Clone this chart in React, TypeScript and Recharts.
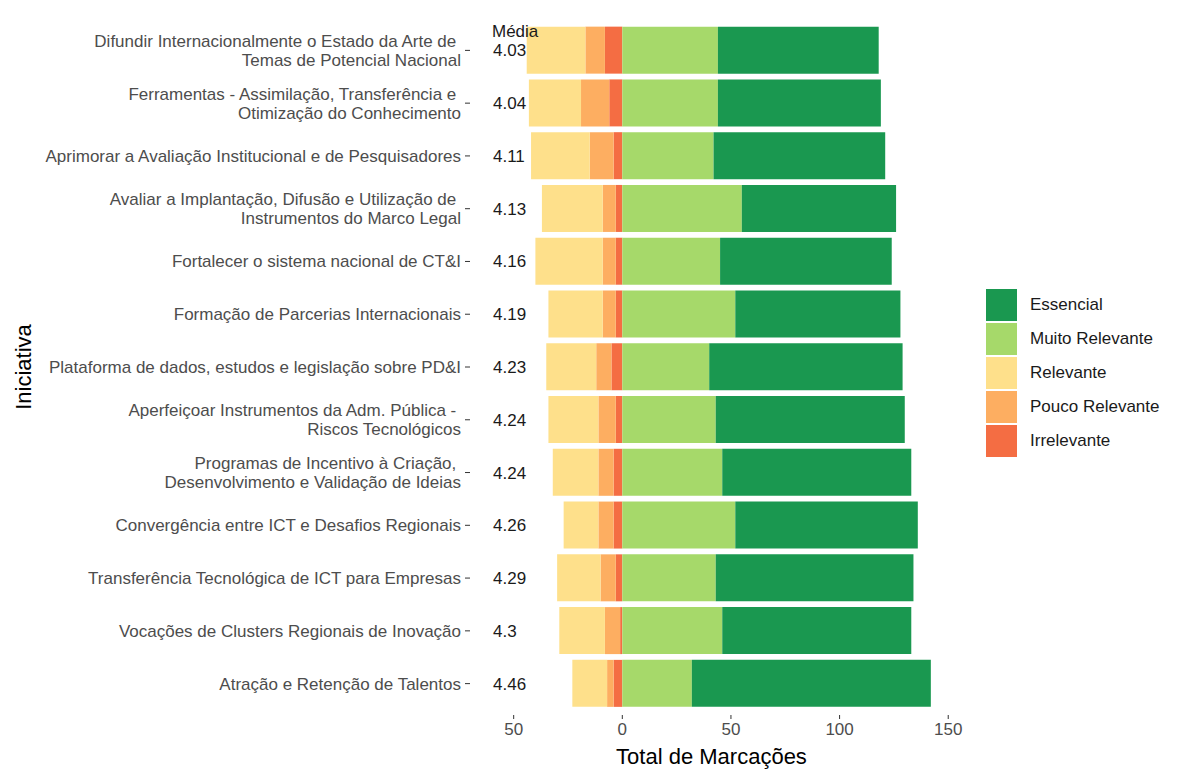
import React from 'react';
import { BarChart, Bar, XAxis, YAxis, Label } from 'recharts';

const categories = [
  'Difundir Internacionalmente o Estado da Arte de \nTemas de Potencial Nacional',
  'Ferramentas - Assimilação, Transferência e \nOtimização do Conhecimento',
  'Aprimorar a Avaliação Institucional e de Pesquisadores',
  'Avaliar a Implantação, Difusão e Utilização de \nInstrumentos do Marco Legal',
  'Fortalecer o sistema nacional de CT&I',
  'Formação de Parcerias Internacionais',
  'Plataforma de dados, estudos e legislação sobre PD&I',
  'Aperfeiçoar Instrumentos da Adm. Pública - \nRiscos Tecnológicos',
  'Programas de Incentivo à Criação, \nDesenvolvimento e Validação de Ideias',
  'Convergência entre ICT e Desafios Regionais',
  'Transferência Tecnológica de ICT para Empresas',
  'Vocações de Clusters Regionais de Inovação',
  'Atração e Retenção de Talentos',
];

const irrelevante = [8, 6, 4, 3, 3, 3, 5, 3, 4, 4, 3, 1, 4];
const poucoRelevante = [9, 13, 11, 6, 6, 6, 7, 8, 7, 7, 7, 7, 3];
const relevante = [27, 24, 27, 28, 31, 25, 23, 23, 21, 16, 20, 21, 16];
const muitoRelevante = [44, 44, 42, 55, 45, 52, 40, 43, 46, 52, 43, 46, 32];
const essencial = [74, 75, 79, 71, 79, 76, 89, 87, 87, 84, 91, 87, 110];

const xTicks = [-50, 0, 50, 100, 150];

const colors = {
  essencial: '#1A9850',
  muito: '#A6D96A',
  relevante: '#FEE08B',
  pouco: '#FDAE61',
  irrelevante: '#F46D43',
};

const legendItems = [
  { name: 'Essencial', color: colors.essencial },
  { name: 'Muito Relevante', color: colors.muito },
  { name: 'Relevante', color: colors.relevante },
  { name: 'Pouco Relevante', color: colors.pouco },
  { name: 'Irrelevante', color: colors.irrelevante },
];

// weighted mean (1 = Irrelevante ... 5 = Essencial), shown like R's round(x, 2)
const means = categories.map((_, i) => {
  const counts = [irrelevante[i], poucoRelevante[i], relevante[i], muitoRelevante[i], essencial[i]];
  const total = counts.reduce((a, b) => a + b, 0);
  const sum = counts.reduce((a, c, k) => a + c * (k + 1), 0);
  return String(Number((sum / total).toFixed(2)));
});

const data = categories.map((name, i) => ({
  name,
  irrelevante: -irrelevante[i],
  pouco: -poucoRelevante[i],
  relevante: -relevante[i],
  muito: muitoRelevante[i],
  essencial: essencial[i],
}));

const FONT = '"Liberation Sans", Arial, sans-serif';

const CategoryTick = (props: any) => {
  const { x, y, payload } = props;
  const idx = categories.indexOf(payload.value);
  const lines = String(payload.value).split('\n');
  const lh = 19;
  const start = -((lines.length - 1) * lh) / 2;
  return (
    <g>
      <text x={x} y={y} textAnchor="end" fill="#4d4d4d" fontSize={17} fontFamily={FONT} style={{ whiteSpace: 'pre' }}>
        {lines.map((l, k) => (
          <tspan key={k} x={x} dy={k === 0 ? start + 6 : lh}>
            {l}
          </tspan>
        ))}
      </text>
      <text x={x + 32} y={y} dy={6} fill="#1a1a1a" fontSize={17} fontFamily={FONT}>
        {means[idx]}
      </text>
      {idx === 0 && (
        <text x={x + 31} y={y - 19.5} dy={6} fill="#1a1a1a" fontSize={17} fontFamily={FONT}>
          Média
        </text>
      )}
    </g>
  );
};

const YTitle = (props: any) => {
  const vb = props.viewBox || {};
  const cy = vb.y + vb.height / 2;
  return (
    <text x={23} y={cy} transform={`rotate(-90, 23, ${cy})`} textAnchor="middle" dy={8} fontSize={22} fill="#000" fontFamily={FONT}>
      Iniciativa
    </text>
  );
};

export default function App() {
  return (
    <div style={{ position: 'absolute', left: 0, top: 0, width: 1180, height: 772, background: '#fff', fontFamily: FONT }}>
      <BarChart
        width={1180}
        height={772}
        data={data}
        layout="vertical"
        stackOffset="sign"
        barCategoryGap="5%"
        margin={{ top: 19, right: 227, bottom: 0, left: 0 }}
      >
        <XAxis
          type="number"
          domain={[-70.1, 152.2]}
          ticks={xTicks}
          allowDataOverflow
          tickFormatter={(v: number) => String(Math.abs(v))}
          axisLine={false}
          tickSize={4}
          tickMargin={4}
          tickLine={{ stroke: '#333333' }}
          tick={{ fill: '#4d4d4d', fontSize: 17, fontFamily: FONT }}
          height={57}
        >
          <Label value="Total de Marcações" position="insideBottom" offset={8} style={{ fontSize: 22, fill: '#000', fontFamily: FONT }} />
        </XAxis>
        <YAxis
          type="category"
          dataKey="name"
          width={470}
          axisLine={false}
          tickSize={5}
          tickMargin={4}
          tickLine={{ stroke: '#333333' }}
          tick={<CategoryTick />}
          interval={0}
          padding={{ top: 5, bottom: 5 }}
        >
          <Label content={<YTitle />} />
        </YAxis>
        <Bar dataKey="irrelevante" name="Irrelevante" stackId="a" fill={colors.irrelevante} isAnimationActive={false} />
        <Bar dataKey="pouco" name="Pouco Relevante" stackId="a" fill={colors.pouco} isAnimationActive={false} />
        <Bar dataKey="relevante" name="Relevante" stackId="a" fill={colors.relevante} isAnimationActive={false} />
        <Bar dataKey="muito" name="Muito Relevante" stackId="a" fill={colors.muito} isAnimationActive={false} />
        <Bar dataKey="essencial" name="Essencial" stackId="a" fill={colors.essencial} isAnimationActive={false} />
      </BarChart>
      <div style={{ position: 'absolute', left: 986, top: 289 }}>
        {legendItems.map((it) => (
          <div key={it.name} style={{ display: 'flex', alignItems: 'center', height: 32, marginBottom: 2 }}>
            <div style={{ width: 31, height: 32, background: it.color }} />
            <span style={{ marginLeft: 13, fontSize: 17, color: '#1a1a1a' }}>{it.name}</span>
          </div>
        ))}
      </div>
    </div>
  );
}
